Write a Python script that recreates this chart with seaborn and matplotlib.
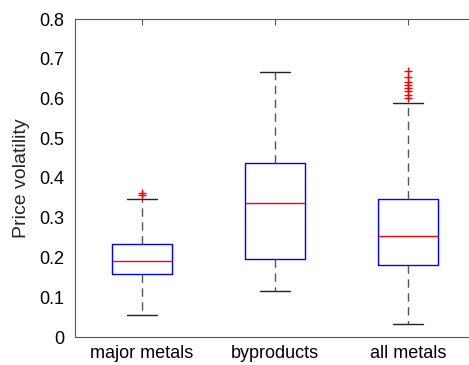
import numpy as np
import pandas as pd
import seaborn as sns
import matplotlib
matplotlib.use("Agg")
import matplotlib.pyplot as plt

# Box statistics per metal group: lower whisker, Q1, median, Q3, upper whisker
groups = ["major metals", "byproducts", "all metals"]
lower_whisker = [0.055, 0.116, 0.033]
q1 = [0.158, 0.195, 0.181]
median = [0.191, 0.338, 0.254]
q3 = [0.234, 0.438, 0.347]
upper_whisker = [0.347, 0.667, 0.589]
outliers = [
    [0.356, 0.362],
    [],
    [0.601, 0.609, 0.618, 0.626, 0.634, 0.641, 0.655, 0.670],
]

# Build a sample per group whose quartiles, whisker ends and fliers
# reproduce the statistics above (block size m = 1 + number of fliers)
rows = []
for g, lo, a, med, b, hi, fl in zip(groups, lower_whisker, q1, median, q3,
                                     upper_whisker, outliers):
    m = 1 + len(fl)
    vals = [lo] + [a] * m + [med] * m + [b] * m + [hi] + list(fl)
    rows += [(g, v) for v in vals]
df = pd.DataFrame(rows, columns=["group", "volatility"])

sns.set_style("white")
plt.rcParams["font.family"] = ["Liberation Sans", "DejaVu Sans"]

fig = plt.figure(figsize=(4.69, 3.65), dpi=100)
ax = fig.add_axes([75 / 469, 28 / 365, 400 / 469, 318 / 365])

sns.boxplot(
    data=df, x="group", y="volatility", order=groups, ax=ax,
    fill=False, width=0.45, whis=1.5,
    boxprops=dict(color="#0000ff", linewidth=1.0),
    medianprops=dict(color="#ff0000", linewidth=1.0),
    whiskerprops=dict(color="#555555", linewidth=1.0, linestyle=(0, (6, 4))),
    capprops=dict(color="#222222", linewidth=1.0),
    flierprops=dict(marker="+", markeredgecolor="#ff0000", markersize=6,
                    markeredgewidth=1.0),
)

ax.set_xlim(-0.5, 2.5)
ax.set_ylim(0, 0.8)
ax.set_yticks(np.arange(0, 0.81, 0.1))
ax.set_yticklabels(["0", "0.1", "0.2", "0.3", "0.4", "0.5", "0.6", "0.7", "0.8"])
ax.set_xlabel("")
ax.set_ylabel("Price volatility", fontsize=14, labelpad=6)
ax.tick_params(axis="both", direction="in", length=4, width=0.8,
               color="#555555", labelsize=13, top=True, right=False,
               labelcolor="black")
ax.tick_params(axis="y", pad=8)
ax.tick_params(axis="x", pad=6)
for name, s in ax.spines.items():
    s.set_visible(name != "right")
    s.set_color("#555555")
    s.set_linewidth(0.8)

fig.savefig("out.png", dpi=100)
